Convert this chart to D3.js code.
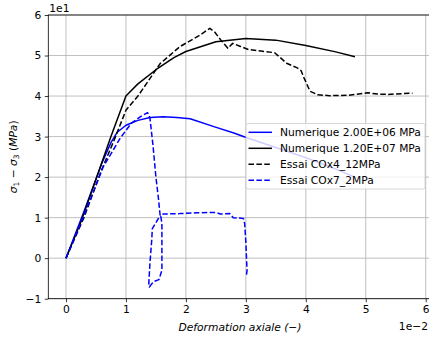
<!DOCTYPE html>
<html><head><meta charset="utf-8">
<script src="https://cdn.jsdelivr.net/npm/d3@7"></script>
<style>
html,body{margin:0;padding:0;background:#fff;}
svg{display:block;font-family:"DejaVu Sans",sans-serif;}
</style></head>
<body><svg id="c" width="429" height="337"></svg>
<script>
// strain values (in units of 1e-2) and deviatoric stress (MPa)
const numE06_x = [0,0.3,0.6,0.75,0.85,1.0,1.2,1.4,1.62,1.85,2.07,2.48,2.8,3.04,3.5,4.0,4.48,4.82];
const numE06_y = [0,11.5,23.5,28.5,31,32.8,34,34.7,34.9,34.7,34.4,32.4,30.9,29.6,27.3,24.8,22.1,20];

const numE07_x = [0,0.25,0.5,0.75,1.0,1.2,1.5,1.8,2.0,2.5,3.0,3.5,4.0,4.5,4.82];
const numE07_y = [0,9,19.5,30,40,43,46.5,49.5,51,53.4,54.2,53.8,52.5,50.9,49.7];

const cox4_x = [0,0.3,0.6,0.8,1.0,1.2,1.34,1.57,1.9,2.23,2.4,2.48,2.6,2.7,2.78,2.9,3.04,3.25,3.48,3.55,3.68,3.85,3.92,3.97,4.07,4.2,4.4,4.71,5.03,5.2,5.37,5.6,5.78];
const cox4_y = [0,10,22,29,36.5,40,43,48,52.2,55,56.7,55.8,53.5,51.8,53,52.3,51.5,51.1,50.7,49.8,48.1,47,46.3,44.5,41.2,40.3,40.1,40.2,40.8,40.5,40.4,40.6,40.7];

const cox7_x = [0,0.3,0.62,0.9,1.09,1.25,1.36,1.4,1.45,1.5,1.54,1.57,1.51,1.44,1.43,1.4,1.38,1.39,1.46,1.55,1.6,1.6,1.6,1.58,1.62,1.9,2.18,2.51,2.57,2.73,2.79,2.96,2.98,3.0,3.01,3.02,3.01,2.99];
const cox7_y = [0,10.5,22.5,29.5,33.3,35,35.9,34.6,28,20,15,10.6,9,7.3,4.4,-1.3,-6.7,-7.1,-5.8,-5.3,-3,2.8,8.6,10.4,10.9,11.0,11.2,11.3,10.9,11,10,9.8,8.6,4,0.3,-3,-4.2,-4.4];

const xTicks = [0,1,2,3,4,5,6];
const yTicks = [-10,0,10,20,30,40,50,60];
const legendLabels = ["Numerique 2.00E+06 MPa","Numerique 1.20E+07 MPa","Essai COx4_12MPa","Essai COx7_2MPa"];

const series = [
  {x:numE06_x, y:numE06_y, color:"#0000ff", dash:null},
  {x:numE07_x, y:numE07_y, color:"#000000", dash:null},
  {x:cox4_x, y:cox4_y, color:"#000000", dash:"5.5,2.4"},
  {x:cox7_x, y:cox7_y, color:"#0000ff", dash:"5.5,2.4"}
];

const FS = 10.7;
const svg = d3.select("#c");
const L=48.3, R=437.7, T=15, B=298.7;
const x = d3.scaleLinear().domain([-0.295,6.2]).range([L,R]);
const y = d3.scaleLinear().domain([-10,60]).range([B,T]);

svg.append("defs").append("clipPath").attr("id","clip")
  .append("rect").attr("x",L).attr("y",T).attr("width",R-L).attr("height",B-T);

// grid
const g = svg.append("g");
g.selectAll("line.gx").data(xTicks).join("line")
  .attr("x1",d=>x(d)).attr("x2",d=>x(d)).attr("y1",T).attr("y2",B)
  .attr("stroke","#b0b0b0").attr("stroke-width",0.8);
g.selectAll("line.gy").data(yTicks).join("line").attr("class","gy")
  .attr("y1",d=>y(d)).attr("y2",d=>y(d)).attr("x1",L).attr("x2",R)
  .attr("stroke","#b0b0b0").attr("stroke-width",0.8);

// lines
const line = d3.line().x(d=>x(d[0])).y(d=>y(d[1]));
const lg = svg.append("g").attr("clip-path","url(#clip)");
series.forEach(s=>{
  const pts = s.x.map((v,i)=>[v,s.y[i]]);
  lg.append("path").attr("d",line(pts)).attr("fill","none")
    .attr("stroke",s.color).attr("stroke-width",1.5)
    .attr("stroke-linejoin","round")
    .attr("stroke-dasharray",s.dash);
});

// axes
const xAxis = d3.axisBottom(x).tickValues(xTicks).tickFormat(d=>d).tickSize(3.5).tickPadding(3.5);
const yAxis = d3.axisLeft(y).tickValues(yTicks).tickFormat(d=>d3.format("")(d/10).replace("-","\u2212")).tickSize(3.5).tickPadding(3.5);
const gx = svg.append("g").attr("transform",`translate(0,${B})`).call(xAxis);
const gy = svg.append("g").attr("transform",`translate(${L},0)`).call(yAxis);
[gx,gy].forEach(a=>{
  a.select(".domain").remove();
  a.selectAll("line").attr("stroke","#000").attr("stroke-width",0.8);
  a.selectAll("text").attr("font-size",FS).attr("fill","#000").attr("font-family","DejaVu Sans");
});
// spines
svg.append("rect").attr("x",L).attr("y",T).attr("width",R-L).attr("height",B-T)
  .attr("fill","none").attr("stroke","#000").attr("stroke-width",0.8);

// offset texts
svg.append("text").attr("x",L+1).attr("y",12).attr("font-size",FS).text("1e1");
svg.append("text").attr("x",428).attr("y",329.5).attr("text-anchor","end").attr("font-size",FS).text("1e\u22122");

// axis labels
svg.append("text").attr("x",240).attr("y",331).attr("text-anchor","middle")
  .attr("font-size",FS).attr("font-style","italic").text("Deformation axiale (\u2212)");
const yl = svg.append("text").attr("transform",`translate(17,${(T+B)/2}) rotate(-90)`)
  .attr("text-anchor","middle").attr("font-size",FS);
yl.append("tspan").attr("font-style","italic").text("\u03c3");
yl.append("tspan").attr("font-size",7.5).attr("dy",2).text("1");
yl.append("tspan").attr("dy",-2).text(" \u2212 ");
yl.append("tspan").attr("font-style","italic").text("\u03c3");
yl.append("tspan").attr("font-size",7.5).attr("dy",2).text("3");
yl.append("tspan").attr("dy",-2).text(" (");
yl.append("tspan").attr("font-style","italic").text("MPa");
yl.append("tspan").text(")");

// legend
const leg = svg.append("g");
leg.append("rect").attr("x",246).attr("y",123.5).attr("width",179).attr("height",65.5).attr("rx",2)
  .attr("fill","#fff").attr("fill-opacity",0.8).attr("stroke","#cccccc").attr("stroke-width",0.8);
legendLabels.forEach((t,i)=>{
  const cy = 132.3 + i*16;
  leg.append("line").attr("x1",248.5).attr("x2",272).attr("y1",cy).attr("y2",cy)
    .attr("stroke",series[i].color).attr("stroke-width",1.5).attr("stroke-dasharray",series[i].dash);
  leg.append("text").attr("x",280).attr("y",cy+3.8).attr("font-size",FS).text(t);
});
</script></body></html>
